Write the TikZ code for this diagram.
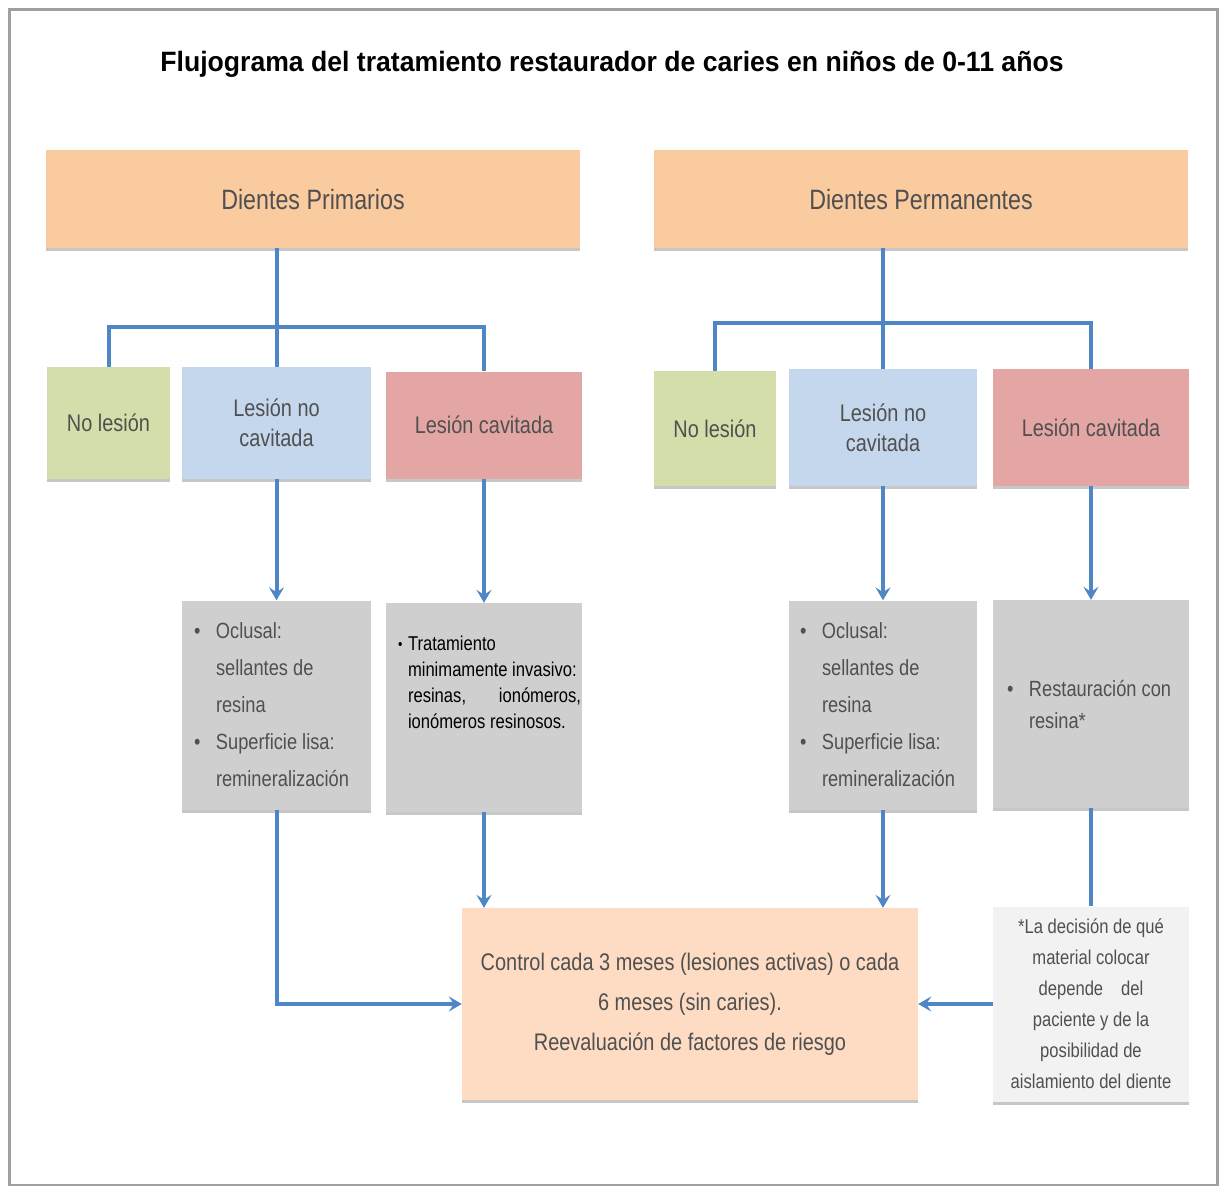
\documentclass[tikz,border=0pt]{standalone}
\usepackage{fontspec}
\setmainfont{Liberation Sans}[FakeStretch=0.83]
\newfontfamily\titlefont{Liberation Sans}[FakeStretch=0.95]
\usetikzlibrary{arrows.meta,positioning,shapes,shadows}
\usepackage{xcolor}

\definecolor{headorange}{HTML}{FBCBA0}
\definecolor{nolesgreen}{HTML}{D3DEAA}
\definecolor{noncavblue}{HTML}{C5D7EC}
\definecolor{cavred}{HTML}{E3A6A4}
\definecolor{optgray}{HTML}{CFCFCF}
\definecolor{ctrlorange}{HTML}{FDDCC3}
\definecolor{notegray}{HTML}{F2F2F2}
\definecolor{linkblue}{HTML}{4F86C6}
\definecolor{labelgray}{HTML}{505050}
\definecolor{framegray}{HTML}{A0A0A0}

\newcommand{\optbullet}{\makebox[22pt][l]{\textbullet}}
\newcommand{\optindent}{\hspace*{22pt}}

\begin{document}
\begin{tikzpicture}[x=1pt, y=-1pt,
    every node/.style={
        rectangle,
        inner sep=0pt,
        text=labelgray,
        align=center
    },
    boxshadow/.style={drop shadow={shadow xshift=0pt, shadow yshift=-3pt, opacity=0.22, fill=black}},
    headbox/.style={boxshadow, fill=headorange, minimum width=534pt, minimum height=98pt, font=\fontsize{28}{34}\selectfont},
    lesionbox/.style={boxshadow, minimum height=112pt, font=\fontsize{24}{30}\selectfont},
    optbox/.style={boxshadow, fill=optgray, minimum height=209pt, align=flush left, font=\fontsize{22}{37}\selectfont},
    link/.style={linkblue, line width=4pt},
    arrowlink/.style={link, -{Stealth[length=13pt, width=15pt, inset=5pt]}}
]
    \useasboundingbox (0,0) rectangle (1224,1186);
    \draw[framegray, line width=3pt] (9,9) rectangle (1217,1185);

    \node (titulo) [shift={(612,64)}, text=black, font=\titlefont\bfseries\fontsize{28}{34}\selectfont]
    {Flujograma del tratamiento restaurador de caries en niños de 0-11 años};



    \node (primarios) [headbox, shift={(313,199)}]
    {Dientes Primarios};
    \node (permanentes) [headbox, shift={(921,199)}]
    {Dientes Permanentes};



    \node (nolesion_p) [lesionbox, fill=nolesgreen, minimum width=123pt, shift={(108.5,423)}]
    {No lesión};
    \node (nocav_p) [lesionbox, fill=noncavblue, minimum width=189pt, shift={(276.5,423)}]
    {Lesión no\\cavitada};
    \node (cav_p) [lesionbox, fill=cavred, minimum width=196pt, minimum height=107pt, shift={(484,425)}]
    {Lesión cavitada};

    \node (nolesion_d) [lesionbox, fill=nolesgreen, minimum width=122pt, minimum height=115pt, shift={(715,428.5)}]
    {No lesión};
    \node (nocav_d) [lesionbox, fill=noncavblue, minimum width=188pt, minimum height=117pt, shift={(883,427.5)}]
    {Lesión no\\cavitada};
    \node (cav_d) [lesionbox, fill=cavred, minimum width=196pt, minimum height=117pt, shift={(1091,427.5)}]
    {Lesión cavitada};



    \node (opciones_nocav_p) [optbox, minimum width=189pt, text width=165pt, shift={(276.5,705)}]
    {\optbullet Oclusal:\\
        \optindent sellantes de\\
        \optindent resina\\
        \optbullet Superficie lisa:\\
        \optindent remineralización};
    \node (opciones_cav_p) [optbox, minimum width=196pt, text width=196pt, text=black, font=\fontsize{20}{26}\selectfont, shift={(484,707.5)}]
    {\begin{minipage}[c][209pt][t]{196pt}\raggedright
        \vspace*{33pt}
        \hspace*{12pt}\makebox[10pt][l]{\fontsize{15}{15}\selectfont\raisebox{1pt}{\textbullet}}Tratamiento\\
        \hspace*{22pt}minimamente invasivo:\\
        \hspace*{22pt}\hbox to 173pt{resinas,\hfill ionómeros,}\\
        \hspace*{22pt}ionómeros resinosos.
    \end{minipage}};
    \node (opciones_nocav_d) [optbox, minimum width=188pt, text width=166pt, shift={(883,705)}]
    {\optbullet Oclusal:\\
        \optindent sellantes de\\
        \optindent resina\\
        \optbullet Superficie lisa:\\
        \optindent remineralización};
    \node (opciones_cav_d) [optbox, minimum width=196pt, minimum height=208pt, text width=168pt, font=\fontsize{22}{32}\selectfont, shift={(1091,704)}]
    {\optbullet Restauración con\\
        \optindent resina*};



    \node (control) [boxshadow, fill=ctrlorange, minimum width=456pt, minimum height=192pt, font=\fontsize{24}{40}\selectfont, shift={(690,1004)}]
    {Control cada 3 meses (lesiones activas) o cada\\
        6 meses (sin caries).\\
        Reevaluación de factores de riesgo};
    \node (nota) [boxshadow, fill=notegray, minimum width=196pt, minimum height=195pt, font=\fontsize{20}{31}\selectfont, shift={(1091,1004)}]
    {*La decisión de qué\\
        material colocar\\
        depende\hspace{18pt}del\\
        paciente y de la\\
        posibilidad de\\
        aislamiento del diente};



    \coordinate (bus_p) at (277,327);
    \coordinate (bus_d) at (883,323);

    \draw[link] (primarios.south -| nocav_p.north) to (nocav_p.north);
    \draw[link] (nolesion_p.north) -- (nolesion_p.north |- bus_p) -- (cav_p.north |- bus_p) -- (cav_p.north);
    \draw[link] (permanentes.south -| nocav_d.north) to (nocav_d.north);
    \draw[link] (nolesion_d.north) -- (nolesion_d.north |- bus_d) -- (cav_d.north |- bus_d) -- (cav_d.north);

    \draw[arrowlink] (nocav_p.south) to (opciones_nocav_p.north);
    \draw[arrowlink] (cav_p.south) to (opciones_cav_p.north);
    \draw[arrowlink] (nocav_d.south) to (opciones_nocav_d.north);
    \draw[arrowlink] (cav_d.south) to (opciones_cav_d.north);

    \draw[arrowlink] (opciones_cav_p.south) to (opciones_cav_p.south |- control.north);
    \draw[arrowlink] (opciones_nocav_d.south) to (opciones_nocav_d.south |- control.north);
    \draw[arrowlink] (opciones_nocav_p.south) |- (control.west);
    \draw[arrowlink] (nota.west) to (control.east);
    \draw[link] (opciones_cav_d.south) to (nota.north);


\end{tikzpicture}
\end{document}
